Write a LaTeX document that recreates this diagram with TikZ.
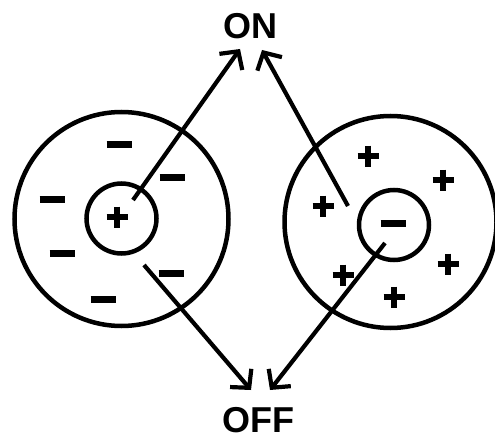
\documentclass[tikz,border=0pt]{standalone}
\usepackage{fontspec}
\setmainfont{Liberation Sans}
\usetikzlibrary{arrows.meta}
\tikzset{
  ring/.style={circle,draw,line width=4.5pt,inner sep=0pt},
  lbl/.style={font=\bfseries\fontsize{36}{40}\selectfont,inner sep=0pt},
  conn/.style={line width=4.2pt,-{Straight Barb[length=13pt,width=28pt]}},
  plus/.pic={\draw[line width=5.5pt] (-10.5,0) -- (10.5,0) (0,-10.5) -- (0,10.5);},
  minus/.pic={\draw[line width=7pt] (-12.5,0) -- (12.5,0);}
}
\begin{document}
\begin{tikzpicture}[x=1pt,y=-1pt]
\useasboundingbox (0,0) rectangle (495,441);
% left atom
\node[ring,minimum size=214pt] (lo) at (121.5,219) {};
\node[ring,minimum size=70pt] (li) at (121.5,218.5) {};
\pic at (117,217) {plus};
\foreach \p in {(119,144),(172,177),(52,199),(62,253),(171,273),(103,299)} \pic at \p {minus};
% right atom
\node[ring,minimum size=212pt] (ro) at (390.5,222) {};
\node[ring,minimum size=70pt] (ri) at (394,225) {};
\pic at (393,223) {minus};
\foreach \p in {(368,156),(443,180),(323,206),(343,275),(448,264),(394,297)} \pic at \p {plus};
% labels
\node[lbl] (on) at (250,26) {ON};
\node[lbl] (off) at (258,420) {OFF};
% connectors
\coordinate (l1) at (133,200);
\coordinate (l2) at (144,265);
\coordinate (r1) at (348,206);
\coordinate (r2) at (385,243);
\coordinate (onL) at (240,49);
\coordinate (onR) at (262,50);
\coordinate (offL) at (251,390);
\coordinate (offR) at (270,390);
\draw[conn] (l1) -- (onL);
\draw[conn] (r1) -- (onR);
\draw[conn] (l2) -- (offL);
\draw[conn] (r2) -- (offR);
\end{tikzpicture}
\end{document}
